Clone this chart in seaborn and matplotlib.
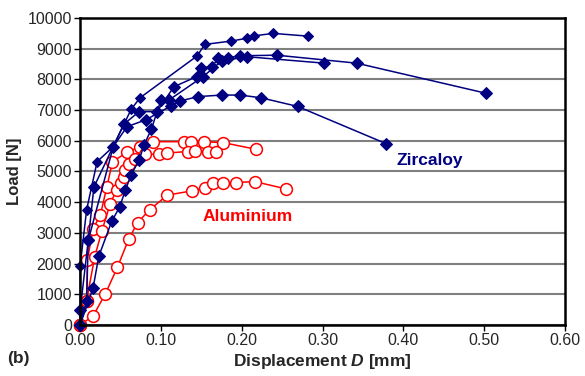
import seaborn as sns
import pandas as pd
import matplotlib.pyplot as plt

# Zircaloy curves (displacement mm, load N)
zr1_d = [0, 0.000, 0.008, 0.021, 0.041, 0.063, 0.074, 0.145, 0.154, 0.187, 0.206, 0.215, 0.239, 0.282]
zr1_f = [0, 1920, 3750, 5320, 5810, 7020, 7400, 8770, 9140, 9250, 9340, 9420, 9500, 9410]
zr2_d = [0, 0.008, 0.010, 0.017, 0.054, 0.073, 0.095, 0.116, 0.144, 0.150, 0.163, 0.171, 0.183, 0.198, 0.243, 0.342, 0.502]
zr2_f = [0, 780, 2750, 4490, 6540, 6950, 6950, 7760, 8090, 8380, 8410, 8690, 8710, 8770, 8790, 8530, 7550]
zr3_d = [0, 0.016, 0.023, 0.039, 0.049, 0.056, 0.063, 0.073, 0.079, 0.088, 0.100, 0.110, 0.152, 0.175, 0.206, 0.302]
zr3_f = [0, 1200, 2230, 3370, 3850, 4400, 4890, 5370, 5860, 6370, 7330, 7330, 8090, 8600, 8740, 8530]
zr4_d = [0, 0.000, 0.010, 0.041, 0.058, 0.081, 0.112, 0.124, 0.146, 0.175, 0.198, 0.224, 0.269, 0.379]
zr4_f = [0, 470, 2750, 5810, 6460, 6680, 7130, 7300, 7440, 7490, 7490, 7400, 7120, 5900]

# Aluminium curves
al1_d = [0, 0.008, 0.009, 0.016, 0.025, 0.033, 0.040, 0.058, 0.074, 0.090, 0.128, 0.137, 0.153, 0.177, 0.218]
al1_f = [0, 790, 2120, 3130, 3580, 4490, 5320, 5620, 5810, 5970, 5970, 5970, 5970, 5940, 5720]
al2_d = [0, 0.008, 0.018, 0.027, 0.037, 0.045, 0.051, 0.054, 0.056, 0.060, 0.068, 0.080, 0.098, 0.107, 0.133, 0.142, 0.158, 0.168]
al2_f = [0, 790, 2220, 3070, 3930, 4400, 4620, 4830, 5050, 5250, 5420, 5560, 5570, 5600, 5650, 5680, 5650, 5620]
al3_d = [0, 0.016, 0.031, 0.046, 0.060, 0.071, 0.086, 0.108, 0.139, 0.154, 0.164, 0.177, 0.193, 0.216, 0.255]
al3_f = [0, 290, 1000, 1870, 2790, 3330, 3750, 4230, 4370, 4470, 4620, 4620, 4640, 4670, 4430]

zr_curves = [(zr1_d, zr1_f), (zr2_d, zr2_f), (zr3_d, zr3_f), (zr4_d, zr4_f)]
al_curves = [(al1_d, al1_f), (al2_d, al2_f), (al3_d, al3_f)]

navy = '#000080'
red = '#ff0000'

sns.set_style('white')
plt.rcParams['font.family'] = ['Liberation Sans', 'DejaVu Sans']
plt.rcParams['mathtext.fontset'] = 'custom'
plt.rcParams['mathtext.bfit'] = 'Liberation Sans:italic:bold'

fig, ax = plt.subplots(figsize=(5.85, 3.76), dpi=100)
fig.subplots_adjust(left=0.137, right=0.966, bottom=0.136, top=0.952)

for d, f in al_curves:
    sns.lineplot(x=d, y=f, ax=ax, sort=False, estimator=None, color=red, lw=1.1,
                 marker='o', markersize=8.5, markerfacecolor='white',
                 markeredgecolor=red, markeredgewidth=1.1, clip_on=False)

for i, (d, f) in enumerate(zr_curves):
    sns.lineplot(x=d, y=f, ax=ax, sort=False, estimator=None, color=navy, lw=1.1,
                 marker='D', markersize=5 if i == 0 else 6.5, markerfacecolor=navy,
                 markeredgecolor=navy, clip_on=False)

ax.set_xlim(0, 0.6)
ax.set_ylim(0, 10000)
ax.set_xticks([0, 0.1, 0.2, 0.3, 0.4, 0.5, 0.6])
ax.set_xticklabels(['0.00', '0.10', '0.20', '0.30', '0.40', '0.50', '0.60'])
ax.set_yticks(range(0, 10001, 1000))
ax.tick_params(labelsize=11.5, length=4, width=1, direction='out', color='black',
               bottom=True, left=True, pad=2)
ax.yaxis.grid(True, color='#808080', lw=1.5)
ax.set_axisbelow(True)
for s in ax.spines.values():
    s.set_color('black')
    s.set_linewidth(1.8)

ax.set_xlabel(r'Displacement $\mathbfit{D}$ [mm]', fontsize=12.5, fontweight='bold', labelpad=3)
ax.set_ylabel('Load [N]', fontsize=12, fontweight='bold', labelpad=4)

ax.text(0.432, 5370, 'Zircaloy', color=navy, fontsize=12.5, fontweight='bold', ha='center', va='center')
ax.text(0.207, 3520, 'Aluminium', color=red, fontsize=12.5, fontweight='bold', ha='center', va='center')
fig.text(0.012, 0.035, '(b)', fontsize=12.5, fontweight='bold')

fig.savefig('out.png', dpi=100)
